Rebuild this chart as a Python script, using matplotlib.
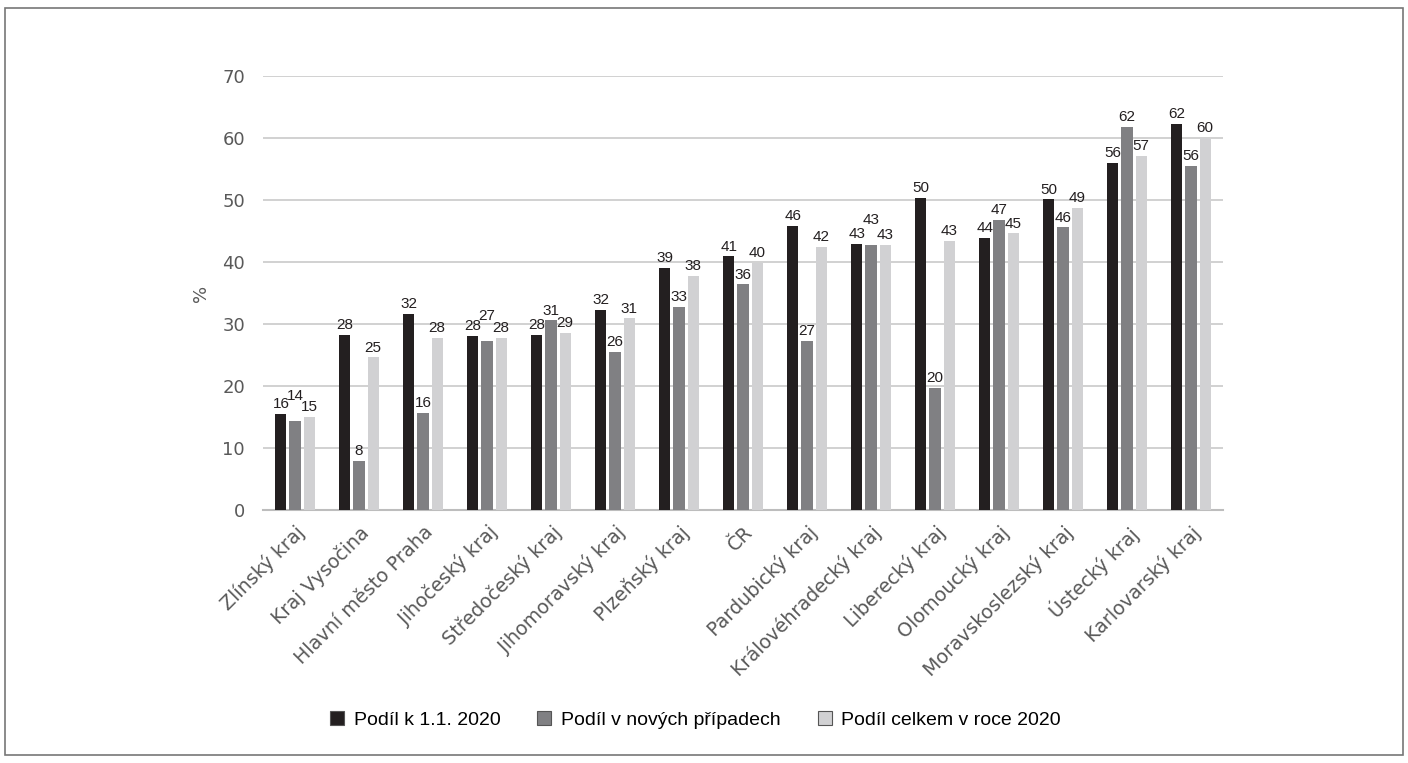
import numpy as np
import matplotlib.pyplot as plt
from matplotlib.patches import Rectangle

# data
regions = ['Zlínský kraj', 'Kraj Vysočina', 'Hlavní město Praha', 'Jihočeský kraj',
           'Středočeský kraj', 'Jihomoravský kraj', 'Plzeňský kraj', 'ČR',
           'Pardubický kraj', 'Královéhradecký kraj', 'Liberecký kraj',
           'Olomoucký kraj', 'Moravskoslezský kraj', 'Ústecký kraj', 'Karlovarský kraj']
podil_2020 = [15.5, 28.3, 31.6, 28.1, 28.2, 32.3, 39.0, 40.9, 45.8, 42.9, 50.4, 43.9, 50.1, 56.0, 62.3]
podil_nove = [14.4, 7.9, 15.7, 27.2, 30.6, 25.5, 32.8, 36.4, 27.3, 42.7, 19.7, 46.8, 45.6, 61.8, 55.5]
podil_celkem = [15.0, 24.6, 27.8, 27.8, 28.6, 30.9, 37.8, 39.9, 42.4, 42.8, 43.4, 44.6, 48.7, 57.1, 60.0]
series_names = ['Podíl k 1.1. 2020', 'Podíl v nových případech', 'Podíl celkem v roce 2020']

colors = ['#231f20', '#808083', '#d1d1d3']
label_font = ['Liberation Sans Narrow', 'Liberation Sans', 'DejaVu Sans']

fig = plt.figure(figsize=(14.08, 7.63), dpi=100)
ax = fig.add_axes([263 / 1408, 1 - 510 / 763, 960 / 1408, 434 / 763])

series = [podil_2020, podil_nove, podil_celkem]
x = np.arange(len(regions))
step = 0.219
width = 0.172
for i, (vals, name) in enumerate(zip(series, series_names)):
    pos = x + (i - 1) * step
    bars = ax.bar(pos, vals, width, color=colors[i], label=name, zorder=3)
    for k, (b, v) in enumerate(zip(bars, vals)):
        dy = 2
        # lift the middle label when it would collide with both neighbours
        if i == 1 and abs(v - podil_2020[k]) < 2 and abs(v - podil_celkem[k]) < 2:
            dy = 13
        ax.annotate('%d' % round(v), (b.get_x() + b.get_width() / 2, v),
                    xytext=(0, dy), textcoords='offset points',
                    ha='center', va='bottom', fontsize=11, family=label_font, color='#231f20')

ax.set_xlim(-0.5, len(regions) - 0.5)
ax.set_ylim(0, 70)
ax.set_yticks(range(0, 71, 10))
ax.grid(axis='y', color='#c9c9c9', linewidth=1.2, zorder=0)
for s in ['top', 'right', 'left']:
    ax.spines[s].set_visible(False)
ax.spines['bottom'].set_color('#bdbdbd')
ax.spines['bottom'].set_linewidth(1.5)
ax.tick_params(axis='y', length=0, labelsize=13, colors='#595959', pad=13)
ax.set_xticks(x)
ax.set_xticklabels(regions, rotation=45, ha='right', rotation_mode='anchor')
ax.tick_params(axis='x', length=0, labelsize=13.8, colors='#595959', pad=9)
ax.set_ylabel('%', fontsize=13, color='#595959', labelpad=9)

leg = fig.legend(loc='center', bbox_to_anchor=(0.494, 1 - 720 / 763), ncol=3, frameon=False,
                 prop={'family': ['Liberation Sans', 'DejaVu Sans'], 'size': 14},
                 handlelength=0.72, handleheight=0.72, handletextpad=0.5, columnspacing=1.9)
for h in leg.legend_handles:
    h.set_edgecolor('#555555')
    h.set_linewidth(0.8)

fig.patches.append(Rectangle((5 / 1408, 8 / 763), 1398 / 1408, 747 / 763, transform=fig.transFigure,
                             fill=False, edgecolor='#777777', linewidth=1.2))

fig.savefig('out.png', dpi=100)
